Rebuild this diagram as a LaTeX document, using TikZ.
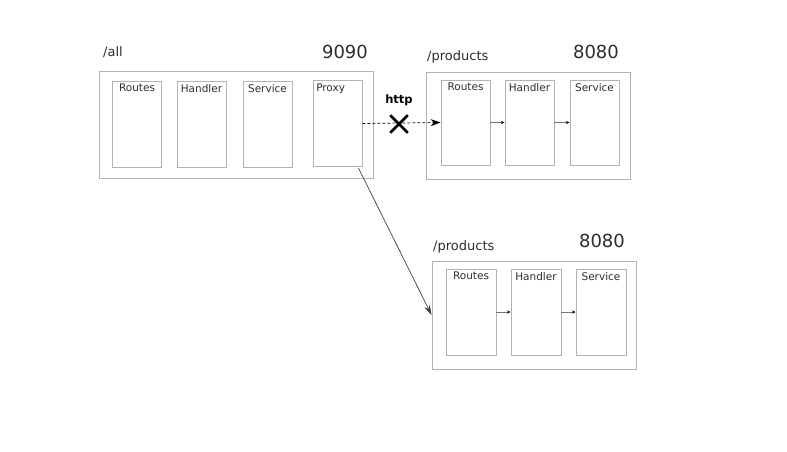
\documentclass[tikz,border=0pt]{standalone}
\usepackage{fontspec}
\setmainfont{DejaVu Sans}
\usepackage{tikz}
\usetikzlibrary{positioning,arrows.meta,shapes.misc,calc}
\definecolor{boxgray}{RGB}{178,178,178}
\definecolor{txtgray}{RGB}{45,45,45}

\begin{document}
\begin{tikzpicture}[x=1pt, y=-1pt, >=Stealth,
  outerbox/.style={draw=boxgray, line width=0.9pt, inner sep=0pt},
  innerbox/.style={draw=boxgray, line width=0.9pt, inner sep=0pt, minimum width=49pt, minimum height=86pt},
  boxlbl/.style={font=\fontsize{10.5}{12}\selectfont, text=txtgray, anchor=north, inner sep=3.5pt},
  pathlbl/.style={font=\fontsize{13}{15}\selectfont, text=txtgray, anchor=west, inner sep=0pt},
  portlbl/.style={font=\fontsize{18}{20}\selectfont, text=txtgray, inner sep=0pt},
  step link/.style={->, black!55, line width=0.5pt, >={Stealth[length=3.5pt, width=3pt, black]}}]

\useasboundingbox (0,0) rectangle (787,452);

% ---------------- gateway /all on 9090 ----------------
\node[outerbox, minimum width=274pt, minimum height=107pt] (gate) at (236,124.5) {};
\node[pathlbl] (gatepath) at (103,52) {/all};
\node[portlbl] (gateport) at (345,52) {9090};

\node[innerbox, label={[boxlbl]north:Routes}]  (groutes)  at (137,124) {};
\node[innerbox, label={[boxlbl]north:Handler}] (ghandler) at (201.5,124) {};
\node[innerbox, label={[boxlbl]north:Service}] (gservice) at (267.5,124) {};
\node[innerbox, label={[boxlbl, anchor=north west]north west:Proxy}] (gproxy) at (337.5,123.5) {};

% ---------------- products service (top) ----------------
\node[outerbox, minimum width=204pt, minimum height=107pt] (prodA) at (528,125.5) {};
\node[pathlbl] (prodApath) at (427,57) {/products};
\node[portlbl] (prodAport) at (596,52) {8080};

\node[innerbox, minimum height=85pt, label={[boxlbl]north:Routes}]  (aroutes)  at (465.5,122.5) {};
\node[innerbox, minimum height=85pt, label={[boxlbl]north:Handler}] (ahandler) at (529.5,122.5) {};
\node[innerbox, minimum height=85pt, label={[boxlbl]north:Service}] (aservice) at (594.5,122.5) {};

\draw[step link] (aroutes) -- (ahandler);
\draw[step link] (ahandler) -- (aservice);

% ---------------- products service (bottom) ----------------
\node[outerbox, minimum width=204pt, minimum height=108pt] (prodB) at (534,315) {};
\node[pathlbl] (prodBpath) at (433,247) {/products};
\node[portlbl] (prodBport) at (602,241) {8080};

\node[innerbox, minimum width=50pt, label={[boxlbl]north:Routes}]  (broutes)  at (471,312) {};
\node[innerbox, minimum width=50pt, label={[boxlbl]north:Handler}] (bhandler) at (536,312) {};
\node[innerbox, minimum width=50pt, label={[boxlbl]north:Service}] (bservice) at (601,312) {};

\draw[step link] (broutes) -- (bhandler);
\draw[step link] (bhandler) -- (bservice);

% ---------------- proxy calls ----------------
\draw[->, densely dashed, line width=0.7pt, >={Stealth[length=10pt, width=7pt]}] (gproxy.east) -- (aroutes.west);
\node[font=\bfseries\fontsize{11.5}{13}\selectfont, text=black] (httplbl) at (399,100) {http};
\node[cross out, draw=black, line width=2.6pt, minimum size=15pt, inner sep=0pt] (xmark) at (399,124) {};

\draw[->, black!75, line width=0.7pt, >={Stealth[length=10pt, width=6pt]}] ($(gproxy.south east)+(-4,1)$) -- (prodB.west);

\end{tikzpicture}
\end{document}
